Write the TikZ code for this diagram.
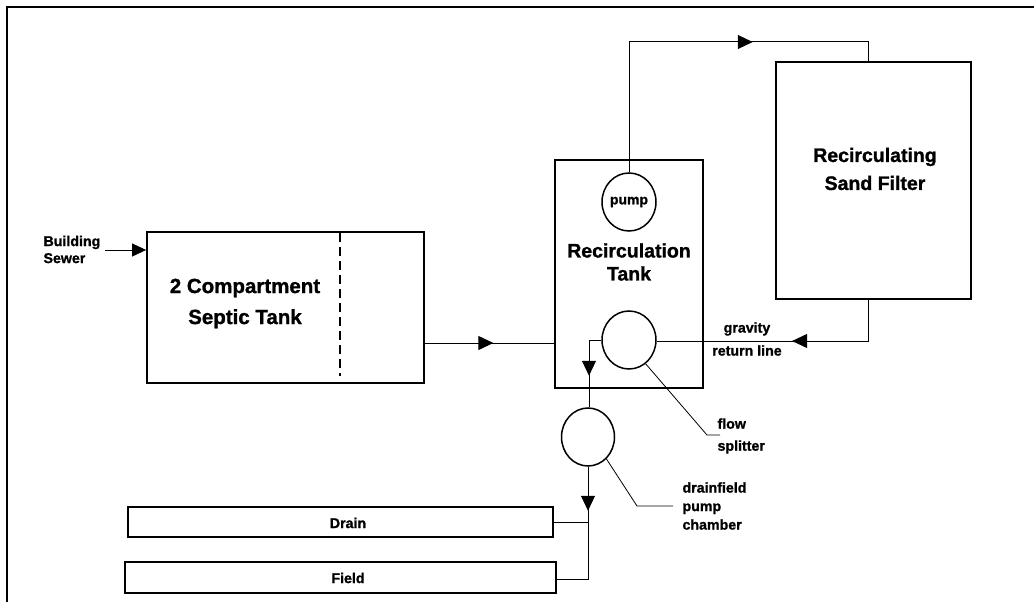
\documentclass[tikz,border=0pt]{standalone}
\usepackage{fontspec}
\setmainfont{Liberation Sans}[BoldFeatures={FakeBold=1.2}]
\usetikzlibrary{arrows.meta,decorations.markings,shapes.geometric}
\begin{document}
\begin{tikzpicture}[x=1pt,y=-1pt,
  box/.style={draw,line width=1.8pt,rectangle,inner sep=0pt},
  ring/.style={draw,line width=1.5pt,ellipse,inner sep=0pt},
  pipe/.style={line width=1pt},
  lead/.style={line width=0.8pt},
  big/.style={font=\bfseries\fontsize{19.5}{26}\selectfont,align=center},
  small/.style={font=\bfseries\fontsize{14.2}{18}\selectfont},
  tip/.style={-{Triangle[length=14pt,width=13pt]}},
  midarrow/.style={postaction={decorate},decoration={markings,mark=at position #1 with {\arrow{Triangle[length=15pt,width=14pt]}}}}
]
\useasboundingbox (0,0) rectangle (1034,602);
% frame
\draw[line width=2.2pt] (7,602) -- (7,7) -- (1034,7);

% boxes
\node[box,minimum width=277pt,minimum height=151pt] (septic) at (285.5,307.5) {};
\draw[line width=1.8pt,dash pattern=on 9pt off 5pt] (340,233) -- (340,376);
\node[big,font=\bfseries\fontsize{20.5}{31}\selectfont] (septiclbl) at (245,303.5) {2 Compartment\\Septic Tank};

\node[box,minimum width=148pt,minimum height=228pt] (tank) at (629,274) {};
\node[big,font=\bfseries\fontsize{19.5}{23}\selectfont] (tanklbl) at (629,262) {Recirculation\\Tank};

\node[box,minimum width=195pt,minimum height=237pt] (filter) at (873.5,180.5) {};
\node[big,font=\bfseries\fontsize{19.5}{28}\selectfont] (filterlbl) at (875,169) {Recirculating\\Sand Filter};

\node[ring,minimum width=54pt,minimum height=58pt,font=\bfseries\fontsize{14}{14}\selectfont] (pump) at (629,202) {pump};
\node[ring,minimum width=54pt,minimum height=58pt] (splitter) at (629,340) {};
\node[ring,minimum width=53pt,minimum height=58pt] (chamber) at (588,437) {};

\node[box,line width=1.5pt,minimum width=425pt,minimum height=30pt] (drain) at (340.5,522) {};
\node[small] (drainlbl) at (348,523) {Drain};
\node[box,line width=1.5pt,minimum width=431pt,minimum height=31pt] (field) at (340.5,577.5) {};
\node[small] (fieldlbl) at (348,578) {Field};

% labels
\node[small,align=left,anchor=west,font=\bfseries\fontsize{14.2}{17}\selectfont] (sewer) at (40,249.5) {Building\\Sewer};
\node[small,align=center,font=\bfseries\fontsize{14.2}{23}\selectfont] (gravity) at (747,339) {gravity\\return line};
\node[small,align=left,anchor=west,font=\bfseries\fontsize{14.2}{22}\selectfont] (flow) at (714,436) {flow\\splitter};
\node[small,align=left,anchor=west,font=\bfseries\fontsize{14.2}{18.5}\selectfont] (dpc) at (679,506) {drainfield\\pump\\chamber};

% connectors
\coordinate (bs) at (105,250);
\draw[pipe,tip] (bs) -- (bs -| septic.west);

\coordinate (s1) at (septic.east |- 0,343);
\draw[pipe,midarrow=0.53] (s1) -- (s1 -| tank.west);

\coordinate (p1) at (629,42);
\coordinate (p2) at (868,42);
\draw[pipe,midarrow=254pt] (pump.north) -- (p1) -- (p2) -- (p2 |- filter.north);

\coordinate (g1) at (868,341);
\draw[pipe,midarrow=117pt] (g1 |- filter.south) -- (g1) -- (g1 -| splitter.east);

\coordinate (d1) at (589,340);
\draw[pipe,midarrow=48pt] (splitter.west |- d1) -- (d1) -- (d1 |- chamber.north);

\coordinate (f1) at (588,579);
\coordinate (f2) at (588,522);
\draw[pipe,midarrow=44pt] (chamber.south) -- (f1) -- (f1 -| field.east);
\draw[pipe] (f2) -- (f2 -| drain.east);

% leaders
\coordinate (l1) at (707,435);
\draw[lead] (splitter.-55) -- (l1) -- (720,435);
\coordinate (l2) at (637,506);
\draw[lead] (chamber.-50) -- (l2) -- (673,506);
\end{tikzpicture}
\end{document}
